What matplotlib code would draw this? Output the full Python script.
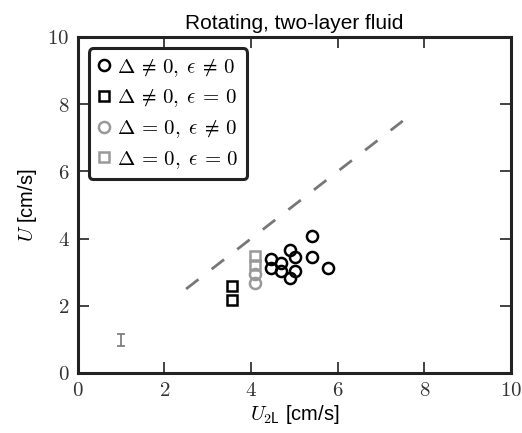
import matplotlib
matplotlib.use('Agg')
import matplotlib.pyplot as plt

plt.rcParams['mathtext.fontset'] = 'cm'
plt.rcParams['font.family'] = ['Liberation Sans', 'DejaVu Sans']

# black circles: Delta != 0, eps != 0
u2l_c = [5.40, 4.90, 5.01, 5.40, 4.45, 4.69, 4.45, 4.69, 5.01, 5.77, 4.90]
u_c = [4.08, 3.66, 3.44, 3.45, 3.39, 3.26, 3.12, 3.05, 3.04, 3.13, 2.82]
# black squares: Delta != 0, eps = 0
u2l_s = [3.55, 3.55]
u_s = [2.60, 2.17]
# grey circles: Delta = 0, eps != 0
u2l_gc = [4.08, 4.08]
u_gc = [2.95, 2.69]
# grey squares: Delta = 0, eps = 0
u2l_gs = [4.08, 4.08]
u_gs = [3.48, 3.22]
# reference line and error bar
line_x = [2.5, 7.5]
line_y = [2.5, 7.5]
err_x, err_y, err_h = 1.0, 0.98, 0.17

ticks = [0, 2, 4, 6, 8, 10]

fig = plt.figure(figsize=(5.22, 4.33), dpi=100)
ax = fig.add_axes([0.149, 0.1386, 0.830, 0.776])

grey = '#999999'
ax.plot(line_x, line_y, '--', color='#777777', lw=2, dashes=(5.65, 6.0))
ax.plot(u2l_c, u_c, 'o', mfc='none', mec='k', mew=1.8, ms=8,
        label=r'$\Delta \,\neq\, 0,\; \epsilon \,\neq\, 0$')
ax.plot(u2l_s, u_s, 's', mfc='none', mec='k', mew=1.8, ms=7.5,
        label=r'$\Delta \,\neq\, 0,\; \epsilon \,=\, 0$')
ax.plot(u2l_gc, u_gc, 'o', mfc='none', mec=grey, mew=1.8, ms=8,
        label=r'$\Delta \,=\, 0,\; \epsilon \,\neq\, 0$')
ax.plot(u2l_gs, u_gs, 's', mfc='none', mec=grey, mew=1.8, ms=7.5,
        label=r'$\Delta \,=\, 0,\; \epsilon \,=\, 0$')
ax.errorbar([err_x], [err_y], yerr=[err_h], fmt='none', ecolor='#777777',
            elinewidth=1.2, capsize=3, capthick=1.2)

ax.set_xlim(0, 10)
ax.set_ylim(0, 10)
ax.set_xticks(ticks)
ax.set_yticks(ticks)
ax.set_xticklabels(['$%d$' % t for t in ticks])
ax.set_yticklabels(['$%d$' % t for t in ticks])
ax.tick_params(direction='in', length=8, width=1.2, labelsize=15,
               top=True, right=True, pad=6, colors='#222222')
ax.tick_params(labelcolor='#333333')
for s in ax.spines.values():
    s.set_linewidth(2.2)
    s.set_color('#222222')

ax.set_xlabel(r'$U_{\mathsf{2L}}$ [cm/s]', fontsize=14.5, labelpad=2)
ax.set_ylabel(r'$U$ [cm/s]', fontsize=14.5, labelpad=6)
ax.set_title('Rotating, two-layer fluid', fontsize=15, pad=6)

leg = ax.legend(loc='upper left', fontsize=15, handlelength=0.6,
                handletextpad=0.35, borderpad=0.4, labelspacing=0.42,
                borderaxespad=0.55, fancybox=True, numpoints=1)
leg.get_frame().set_linewidth(2.2)
leg.get_frame().set_edgecolor('#222222')
leg.get_frame().set_alpha(1)

fig.savefig('out.png', dpi=100)
